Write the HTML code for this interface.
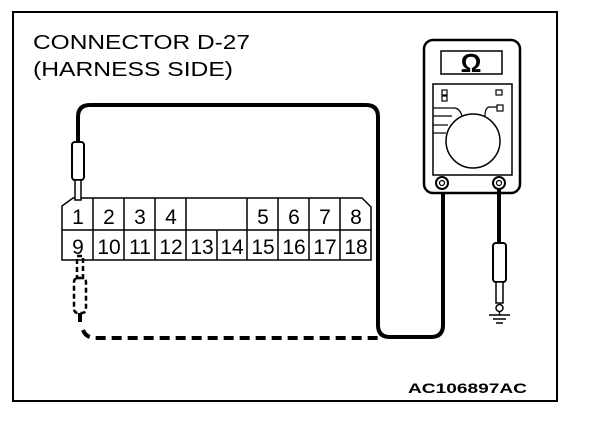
<!DOCTYPE html>
<html><head><style>html,body{margin:0;padding:0;background:#fff;width:608px;height:424px;overflow:hidden}</style></head>
<body>
<svg width="608" height="424" viewBox="0 0 608 424" xmlns="http://www.w3.org/2000/svg" font-family="Liberation Sans, sans-serif">
<rect x="13" y="12" width="544" height="389" fill="none" stroke="#000" stroke-width="2"/>
<text x="33" y="49" font-size="20" textLength="217" lengthAdjust="spacingAndGlyphs">CONNECTOR D-27</text>
<text x="33" y="76" font-size="20" textLength="200" lengthAdjust="spacingAndGlyphs">(HARNESS SIDE)</text>
<text x="408" y="393" font-size="14" font-weight="bold" textLength="119" lengthAdjust="spacingAndGlyphs">AC106897AC</text>

<g stroke="#000" stroke-width="1.5" fill="none">
<path d="M73,198 L362,198 L371,207 L371,260 L62,260 L62,206 Z"/>
<line x1="62" y1="230" x2="371" y2="230"/>
<line x1="93" y1="198" x2="93" y2="260"/>
<line x1="124" y1="198" x2="124" y2="260"/>
<line x1="155" y1="198" x2="155" y2="260"/>
<line x1="186" y1="198" x2="186" y2="260"/>
<line x1="217" y1="230" x2="217" y2="260"/>
<line x1="247" y1="198" x2="247" y2="260"/>
<line x1="278" y1="198" x2="278" y2="260"/>
<line x1="309" y1="198" x2="309" y2="260"/>
<line x1="340" y1="198" x2="340" y2="260"/>
</g>
<g font-size="21" text-anchor="middle">
<text x="78" y="224">1</text><text x="109" y="224">2</text><text x="140" y="224">3</text><text x="171" y="224">4</text>
<text x="263" y="224">5</text><text x="294" y="224">6</text><text x="325" y="224">7</text><text x="356" y="224">8</text>
<text x="78" y="254">9</text><text x="109" y="254">10</text><text x="140" y="254">11</text><text x="171" y="254">12</text>
<text x="202" y="254">13</text><text x="232" y="254">14</text><text x="263" y="254">15</text><text x="294" y="254">16</text>
<text x="325" y="254">17</text><text x="356" y="254">18</text>
</g>

<path d="M78,142 L78,117 Q78,105 90,105 L366,105 Q378,105 378,117 L378,325 Q378,337 390,337 L431,337 Q443,337 443,325 L443,183" fill="none" stroke="#000" stroke-width="4"/>
<rect x="72" y="142" width="12" height="38" rx="3" fill="#fff" stroke="#000" stroke-width="2"/>
<rect x="75" y="180" width="6" height="20" fill="#fff" stroke="#000" stroke-width="1.5"/>

<g fill="none" stroke="#000" stroke-width="2.5" stroke-dasharray="5,3">
<rect x="77" y="256" width="6" height="22"/>
<rect x="74" y="278" width="12" height="35" rx="4"/>
</g>
<path d="M80,313 L80,322 M83,330 Q86,338 96,338 L378,338" fill="none" stroke="#000" stroke-width="4" stroke-dasharray="10,6"/>

<rect x="424" y="40" width="96" height="153" rx="9" fill="#fff" stroke="#000" stroke-width="2.5"/>
<rect x="441" y="51" width="61" height="23" fill="#fff" stroke="#000" stroke-width="1.5"/>
<text x="471" y="72" font-size="26" font-weight="bold" text-anchor="middle">Ω</text>
<rect x="433" y="84" width="79" height="91" fill="#fff" stroke="#000" stroke-width="1.5"/>
<g fill="none" stroke="#000" stroke-width="1.2">
<rect x="442" y="90" width="5" height="5"/><rect x="442" y="96" width="5" height="5"/>
<rect x="496" y="90" width="6" height="5"/><rect x="497" y="105" width="6" height="6"/>
<path d="M433,108 L455,108 Q460,109 462,116"/>
<line x1="433" y1="116" x2="452" y2="116"/>
<line x1="433" y1="125" x2="448" y2="125"/>
<line x1="433" y1="133" x2="446" y2="133"/>
<path d="M497,107 L489,107 Q485,108 485,116"/>
</g>
<circle cx="473" cy="141" r="27" fill="#fff" stroke="#000" stroke-width="1.5"/>
<circle cx="442" cy="183" r="6" fill="#fff" stroke="#000" stroke-width="2"/>
<circle cx="442" cy="183" r="2.5" fill="#fff" stroke="#000" stroke-width="1.2"/>
<circle cx="499" cy="183" r="6" fill="#fff" stroke="#000" stroke-width="2"/>
<circle cx="499" cy="183" r="2.5" fill="#fff" stroke="#000" stroke-width="1.2"/>

<line x1="499" y1="188" x2="499" y2="244" stroke="#000" stroke-width="4"/>
<rect x="493" y="243" width="13" height="39" rx="3" fill="#fff" stroke="#000" stroke-width="2"/>
<rect x="496" y="282" width="7" height="21" fill="#fff" stroke="#000" stroke-width="1.5"/>
<circle cx="499.5" cy="308" r="3.5" fill="#fff" stroke="#000" stroke-width="1.5"/>
<line x1="499.5" y1="311" x2="499.5" y2="315" stroke="#000" stroke-width="1.5"/>
<line x1="489" y1="315" x2="510" y2="315" stroke="#000" stroke-width="1.5"/>
<line x1="493" y1="319" x2="506" y2="319" stroke="#000" stroke-width="1.5"/>
<line x1="496" y1="323" x2="503" y2="323" stroke="#000" stroke-width="1.5"/>
</svg>
</body></html>
